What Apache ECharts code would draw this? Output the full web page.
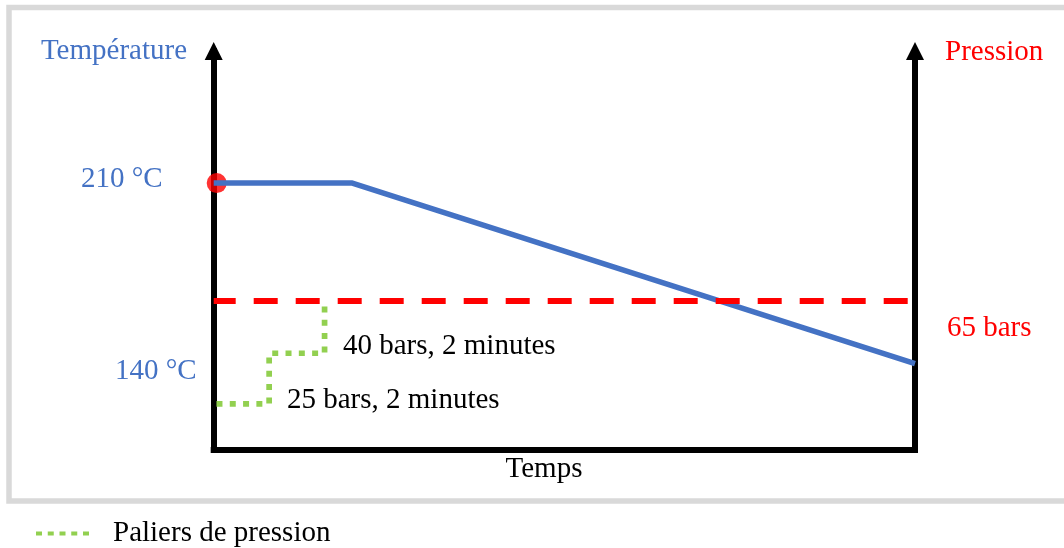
<!DOCTYPE html>
<html>
<head>
<meta charset="utf-8">
<title>Température / Pression</title>
<script src="https://cdn.jsdelivr.net/npm/echarts@6/dist/echarts.min.js"></script>
<style>
    html, body{margin:0;padding:0;background:#fff;}
    #chart{width:1064px;height:548px;}
</style>
</head>
<body>
<div id="chart"></div>
<script>
// temps en minutes
var tempTime = [0, 5, 25.3];
var tempValue = [210, 210, 143];          // °C
var holdTime = [0, 25.3];
var holdValue = [65, 65];                 // bars
var stepTime = [0.1, 2, 2, 4, 4];
var stepValue = [25, 25, 40, 40, 65];     // paliers en bars
var startPoint = [0, 210];

var FONT = 'Liberation Serif';
var BLUE = '#4472c4', RED = '#ff0000', GREEN = '#92d050';

function pairs(xs, ys){
    var arr = [];
    for(var i=0; i<xs.length; i++){
        arr.push([xs[i], ys[i]]);
    }
    return arr;
}

//样式：坐标轴线
function axisLineStyle(arrow){
    return {
        show: true,
        onZero: false,
        symbol: arrow ? ['none', 'triangle'] : 'none',
        symbolSize: [18, 18],
        lineStyle: {color: '#000', width: 6, cap: 'square'}
    };
}

function txt(text, x, y, color, align){
    return {
        type: 'text',
        x: x, y: y,
        style: {
            text: text,
            fill: color,
            font: '29px "' + FONT + '"',
            textAlign: align || 'left',
            textVerticalAlign: 'middle'
        }
    };
}

var chart = echarts.init(document.getElementById('chart'));
var option = {
    animation: false,
    grid: {left: 213.7, right: 149, top: 51, bottom: 98},
    legend: {
        left: 36,
        top: 519,
        padding: 0,
        selectedMode: false,
        itemWidth: 53,
        itemHeight: 4,
        icon: 'path://M0,0h6v4h-6zM11.75,0h6v4h-6zM23.5,0h6v4h-6zM35.25,0h6v4h-6zM47,0h6v4h-6z',
        itemStyle: {color: GREEN},
        textStyle: {fontFamily: FONT, fontSize: 29, color: '#000', padding: [0, 0, 0, 19]},
        data: ['Paliers de pression']
    },
    xAxis: {
        type: 'value',
        min: 0,
        max: 25.3,
        axisLine: axisLineStyle(false),
        axisTick: {show: false},
        axisLabel: {show: false},
        splitLine: {show: false}
    },
    yAxis: [{
        type: 'value',
        position: 'left',
        min: 111,
        max: 259,
        axisLine: axisLineStyle(true),
        axisTick: {show: false},
        axisLabel: {show: false},
        splitLine: {show: false}
    }, {
        type: 'log',
        position: 'right',
        min: 16.3,
        max: 661,
        axisLine: axisLineStyle(true),
        axisTick: {show: false},
        axisLabel: {show: false},
        splitLine: {show: false}
    }],
    series: [{
        name: 'Départ',
        type: 'scatter',
        yAxisIndex: 0,
        symbol: 'circle',
        symbolSize: 20,
        symbolOffset: [3, 0],
        itemStyle: {color: RED},
        z: 2,
        data: [startPoint]
    }, {
        name: 'Température',
        type: 'line',
        yAxisIndex: 0,
        showSymbol: false,
        lineStyle: {color: BLUE, width: 5.5},
        z: 3,
        data: pairs(tempTime, tempValue)
    }, {
        name: 'Pression',
        type: 'line',
        yAxisIndex: 1,
        showSymbol: false,
        lineStyle: {color: RED, width: 6, type: [24, 18], dashOffset: 2},
        z: 3,
        data: pairs(holdTime, holdValue)
    }, {
        name: 'Paliers de pression',
        type: 'line',
        yAxisIndex: 1,
        showSymbol: false,
        itemStyle: {color: GREEN},
        lineStyle: {color: GREEN, width: 5.7, type: [6, 7.3]},
        z: 3,
        data: pairs(stepTime, stepValue)
    }],
    graphic: [
        //cadre gris
        {
            type: 'rect',
            shape: {x: 9, y: 7.5, width: 1070, height: 493.5},
            style: {fill: 'none', stroke: '#d9d9d9', lineWidth: 5.5},
            z: -1
        },
        txt('Température', 187, 51, BLUE, 'right'),
        txt('Pression', 945, 52, RED),
        txt('210 °C', 81, 179.5, BLUE),
        txt('140 °C', 115, 371, BLUE),
        txt('65 bars', 947, 328, RED),
        txt('40 bars, 2 minutes', 343, 346, '#000'),
        txt('25 bars, 2 minutes', 287, 400, '#000'),
        txt('Temps', 544, 469.5, '#000', 'center')
    ]
};
chart.setOption(option);
</script>
</body>
</html>
